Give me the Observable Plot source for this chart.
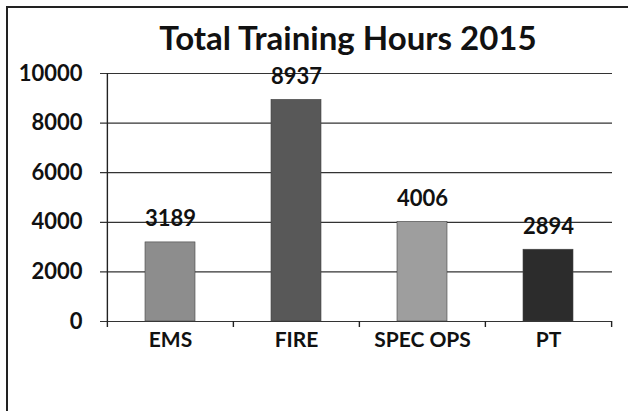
<!DOCTYPE html>
<html>
<head>
<meta charset="utf-8">
<script src="https://cdn.jsdelivr.net/npm/d3@7"></script>
<script src="https://cdn.jsdelivr.net/npm/@observablehq/plot@0.6"></script>
<style>
  html, body { margin: 0; padding: 0; background: #fff; }
  #wrap { position: relative; width: 628px; height: 411px; overflow: hidden; background: #fff; font-family: Lato, "Open Sans", sans-serif; }
  #border { position: absolute; left: 6px; top: 6px; width: 700px; height: 500px; border-left: 2px solid #222; border-top: 2px solid #222; }
  #title { position: absolute; left: 0; width: 696px; top: 21px; text-align: center; font-family: Lato, sans-serif; font-weight: 700; font-size: 33px; line-height: 1; color: #111; }
  #chart { position: absolute; left: 0; top: 0; }
</style>
</head>
<body>
<div id="wrap">
  <div id="border"></div>
  <div id="chart"></div>
  <div id="title">Total Training Hours 2015</div>
</div>
<script>
const categories = ["EMS", "FIRE", "SPEC OPS", "PT"];
const hours = [3189, 8937, 4006, 2894];
const barColors = ["#8d8d8d", "#585858", "#9e9e9e", "#2c2c2c"];
const yTicks = [0, 2000, 4000, 6000, 8000, 10000];

const data = categories.map((c, i) => ({category: c, hours: hours[i], color: barColors[i]}));

const W = 628, H = 411, ML = 107, MR = 16, MT = 73, MB = 90;
const step = (W - ML - MR) / categories.length;
const innerH = H - MT - MB;

const chart = Plot.plot({
  width: W,
  height: H,
  marginLeft: ML,
  marginRight: MR,
  marginTop: MT,
  marginBottom: MB,
  style: {fontFamily: "Lato, sans-serif", background: "transparent", color: "#111"},
  x: {domain: categories, paddingInner: 0.6, paddingOuter: 0.3, axis: null, label: null},
  y: {domain: [0, 10000], axis: null, label: null},
  color: {type: "identity"},
  marks: [
    Plot.ruleY(yTicks, {y: d => d, stroke: "#333", strokeWidth: 1.2, insetLeft: -7}),
    Plot.barY(data, {x: "category", y: "hours", fill: "color", stroke: "#444", strokeWidth: 0.6}),
    Plot.tickX(categories.slice(0, 1), {x: d => d, dx: -step / 2, insetBottom: -6, stroke: "#222", strokeWidth: 1.4}),
    Plot.tickX(categories.slice(1), {x: d => d, dx: -step / 2, insetTop: innerH, insetBottom: -6, stroke: "#222", strokeWidth: 1.4}),
    Plot.tickX(categories.slice(-1), {x: d => d, dx: step / 2, insetTop: innerH, insetBottom: -6, stroke: "#222", strokeWidth: 1.4}),
    Plot.axisY(yTicks, {tickSize: 0, tickPadding: 25, fontSize: 22, fontWeight: "bold", label: null, tickFormat: d => String(d)}),
    Plot.axisX({tickSize: 0, tickPadding: 11, fontSize: 21, fontWeight: "bold", label: null}),
    Plot.text(data, {x: "category", y: "hours", text: d => String(d.hours), lineAnchor: "bottom", dy: -16, fontSize: 22, fontWeight: "bold"})
  ]
});
document.getElementById("chart").appendChild(chart);
</script>
</body>
</html>
